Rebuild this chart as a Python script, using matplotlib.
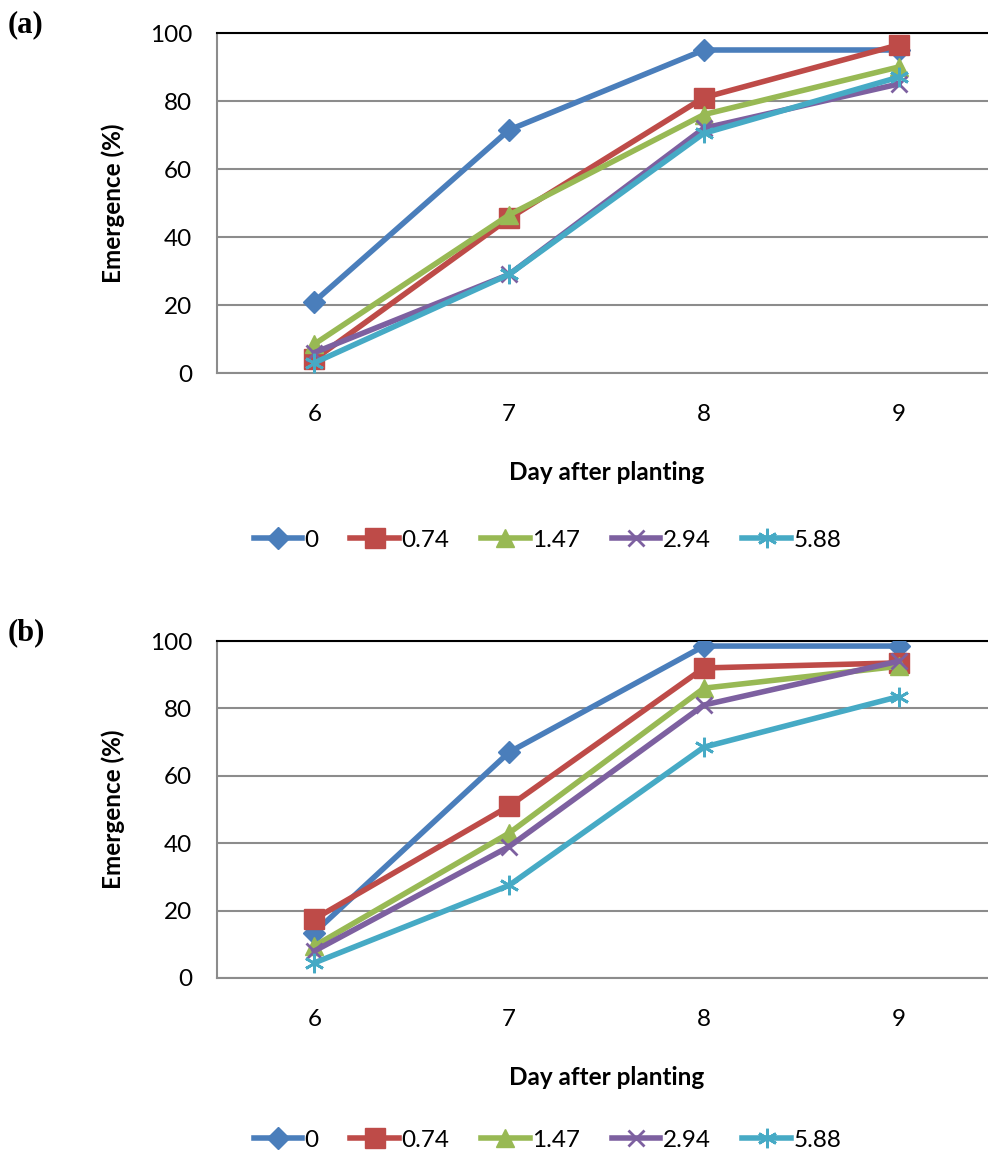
import numpy as np
import matplotlib
matplotlib.use('Agg')
import matplotlib.pyplot as plt

plt.rcParams['font.family'] = ['Lato', 'DejaVu Sans']

# Days after planting and rate labels
days = ['6', '7', '8', '9']
rates = ['0', '0.74', '1.47', '2.94', '5.88']

# Emergence (%), panel (a)
a_0 = [21, 71.5, 95, 95]
a_074 = [4, 45.5, 81, 96.5]
a_147 = [8.5, 46.5, 76, 90]
a_294 = [6, 29, 72, 85]
a_588 = [3, 29, 70.5, 87]

# panel (b)
b_0 = [13.5, 67, 98.5, 98.5]
b_074 = [17.5, 51, 92, 93.5]
b_147 = [9.5, 43, 86, 92.5]
b_294 = [8, 39, 81, 94]
b_588 = [4.5, 27.5, 68.5, 83.5]

colors = ['#4a7ebb', '#be4b48', '#98b954', '#7d60a0', '#46aac5']
markers = ['D', 's', '^', 'x', '*']
msizes = [11, 14, 13, 12, 14]

fig = plt.figure(figsize=(9.88, 11.6), dpi=100)
W, H = 988, 1160
fs = 17.5

def panel(top, bottom, series, tag, leg_y):
    ax = fig.add_axes([217 / W, 1 - bottom / H, (996 - 217) / W, (bottom - top) / H])
    x = np.arange(len(days))
    for i, vals in enumerate(series):
        m = markers[i]
        if m == '*':
            ax.plot(x, vals, color=colors[i], lw=4, marker=(6, 2, 0),
                    ms=msizes[i], mew=2, label=rates[i], zorder=3 + i)
        elif m == 'x':
            ax.plot(x, vals, color=colors[i], lw=4, marker='x',
                    ms=msizes[i], mew=2, label=rates[i], zorder=3 + i)
        else:
            ax.plot(x, vals, color=colors[i], lw=4, marker=m,
                    ms=msizes[i], label=rates[i], zorder=3 + i)
    ax.set_xlim(-0.5, 3.5)
    ax.set_ylim(0, 100)
    ax.set_xticks(x)
    ax.set_xticklabels(days)
    ax.set_yticks([0, 20, 40, 60, 80, 100])
    ax.tick_params(length=0, labelsize=fs)
    ax.tick_params(axis='x', pad=22)
    ax.tick_params(axis='y', pad=18)
    ax.grid(axis='y', color='#8c8c8c', lw=1.5)
    ax.set_axisbelow(True)
    for s in ['left', 'bottom']:
        ax.spines[s].set_color('#8c8c8c')
        ax.spines[s].set_linewidth(1.5)
    ax.spines['right'].set_visible(False)
    ax.spines['top'].set_color('black')
    ax.spines['top'].set_linewidth(1.5)
    ax.set_xlabel('Day after planting', fontsize=fs, fontweight='bold', labelpad=26)
    ax.set_ylabel('Emergence (%)', fontsize=fs, fontweight='bold', labelpad=18)
    fig.text(8 / W, 1 - (top - 8) / H, tag, fontsize=22, fontweight='bold',
             family='Liberation Serif', va='center', ha='left')
    ax.legend(loc='center', bbox_to_anchor=(0.554, 1 - leg_y / H),
              bbox_transform=fig.transFigure, ncol=5, frameon=False,
              fontsize=fs, handlelength=2.0, handletextpad=0.1,
              columnspacing=1.3)
    return ax

panel(33, 373, [a_0, a_074, a_147, a_294, a_588], '(a)', 540)
panel(641, 978, [b_0, b_074, b_147, b_294, b_588], '(b)', 1140)

fig.savefig('out.png', dpi=100)
